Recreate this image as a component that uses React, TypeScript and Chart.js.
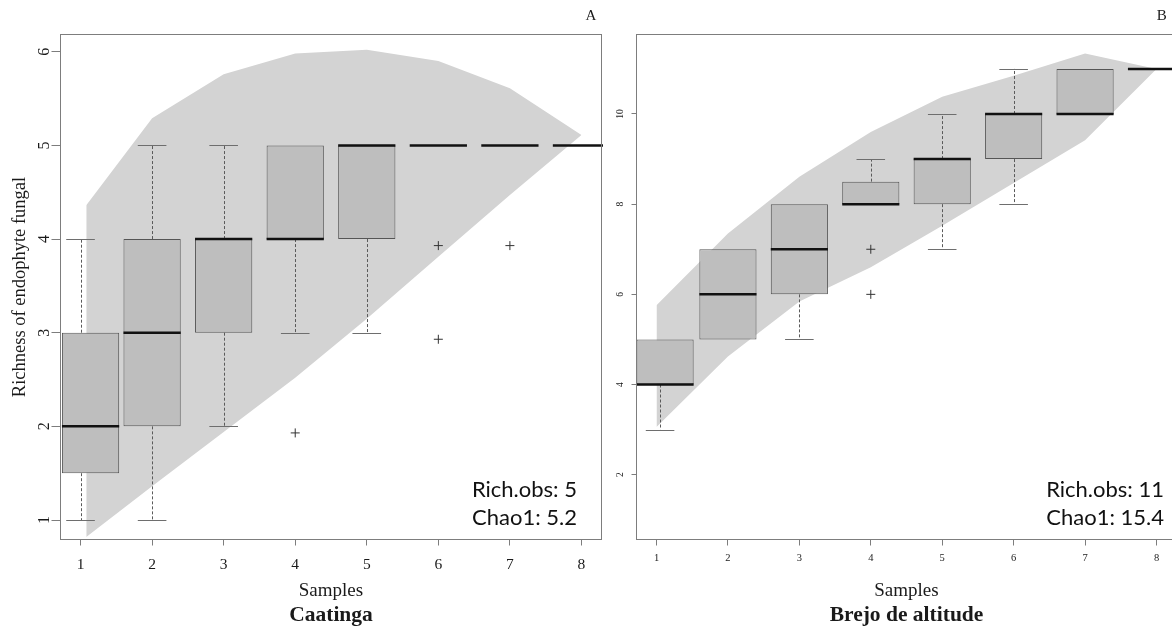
import React, { useEffect, useRef } from "react";
import { Chart, registerables } from "chart.js";

Chart.register(...registerables);

// ---------- shared ----------
const samples = [1, 2, 3, 4, 5, 6, 7, 8];

// ---------- Panel A : Caatinga ----------
const caaYTicks = [1, 2, 3, 4, 5, 6];
const caaBandX = [1.08, 2, 3, 4, 5, 6, 7, 8];
const caaBandLower = [0.82, 1.36, 1.94, 2.52, 3.15, 3.81, 4.47, 5.11];
const caaBandUpper = [4.36, 5.29, 5.76, 5.98, 6.02, 5.9, 5.61, 5.11];
const caaBoxX = [1.14, 2, 3, 4, 5, 6, 7, 8];
const caaWhiskerX = [1, 2, 3, 4, 5, 6, 7, 8];
const caaWhiskerLow = [1, 1, 2, 3, 3, 5, 5, 5];
const caaQ1 = [1.5, 2, 3, 4, 4, 5, 5, 5];
const caaMedian = [2, 3, 4, 4, 5, 5, 5, 5];
const caaQ3 = [3, 4, 4, 5, 5, 5, 5, 5];
const caaWhiskerHigh = [4, 5, 5, 5, 5, 5, 5, 5];
const caaOutlierX = [4, 6, 6, 7];
const caaOutlierY = [1.93, 3.93, 2.93, 3.93];
const caaStats = ["Rich.obs: 5", "Chao1: 5.2"];

// ---------- Panel B : Brejo de altitude ----------
const brejoYTicks = [2, 4, 6, 8, 10];
const brejoBandX = [1, 2, 3, 4, 5, 6, 7, 8];
const brejoBandLower = [3.06, 4.62, 5.84, 6.6, 7.52, 8.47, 9.42, 11.0];
const brejoBandUpper = [5.76, 7.35, 8.61, 9.6, 10.38, 10.85, 11.34, 11.0];
const brejoBoxX = [1.12, 2, 3, 4, 5, 6, 7, 8];
const brejoWhiskerX = [1.05, 2, 3, 4, 5, 6, 7, 8];
const brejoWhiskerLow = [3, 5, 5, 8, 7, 8, 10, 11];
const brejoQ1 = [4, 5, 6, 8, 8, 9, 10, 11];
const brejoMedian = [4, 6, 7, 8, 9, 10, 10, 11];
const brejoQ3 = [5, 7, 8, 8.5, 9, 10, 11, 11];
const brejoWhiskerHigh = [5, 7, 8, 9, 10, 11, 11, 11];
const brejoOutlierX = [4, 4];
const brejoOutlierY = [7, 6];
const brejoStats = ["Rich.obs: 11", "Chao1: 15.4"];

const BOX_WIDTH = 0.8; // in x units
const SERIF = "'Liberation Serif', 'Times New Roman', serif";
const SANS = "Lato, 'Noto Sans', sans-serif";
const FRAME = "#7d7d7d";
const TEXT = "#1a1a1a";
const SUB_SIZE = 21.5;
const SUB_PAD_BOTTOM = -2;
const SUB_H = SUB_SIZE * 1.2 + SUB_PAD_BOTTOM;

type PanelCfg = {
  left: number;
  width: number;
  yMin: number;
  yMax: number;
  yTicks: number[];
  bandX: number[];
  bandLower: number[];
  bandUpper: number[];
  boxX: number[];
  whiskerX: number[];
  wLow: number[];
  q1: number[];
  med: number[];
  q3: number[];
  wHigh: number[];
  outX: number[];
  outY: number[];
  stats: string[];
  statsRight: number;
  letter: string;
  letterX: number;
  subtitle: string;
  yTitle: string | null;
  yAxisWidth: number;
  padRight: number;
  yTickFont: number;
  yTickLen: number;
  yTickPad: number;
  xTickFont: number;
  xTickLen: number;
  xTickPad: number;
};

function Panel({ cfg }: { cfg: PanelCfg }) {
  const ref = useRef<HTMLCanvasElement | null>(null);
  useEffect(() => {
    if (!ref.current) return;
    let minGap = Infinity;
    for (let i = 1; i < cfg.boxX.length; i++) minGap = Math.min(minGap, cfg.boxX[i] - cfg.boxX[i - 1]);
    const catPct = BOX_WIDTH / minGap;

    const boxPlugin = {
      id: "boxExtras",
      afterDatasetsDraw(chart: any) {
        const { ctx, chartArea } = chart;
        const xs = chart.scales.x;
        const ys = chart.scales.y;
        ctx.save();
        ctx.beginPath();
        ctx.rect(chartArea.left, chartArea.top, chartArea.right - chartArea.left + 1.5, chartArea.bottom - chartArea.top);
        ctx.clip();
        cfg.boxX.forEach((bx, i) => {
          const wx = cfg.whiskerX[i];
          const cx = xs.getPixelForValue(wx);
          const bcx = xs.getPixelForValue(bx);
          const half = (xs.getPixelForValue(bx + BOX_WIDTH / 2) - xs.getPixelForValue(bx - BOX_WIDTH / 2)) / 2;
          const capHalf = half / 2;
          const yq1 = ys.getPixelForValue(cfg.q1[i]);
          const yq3 = ys.getPixelForValue(cfg.q3[i]);
          const drawWhisker = (from: number, to: number) => {
            ctx.strokeStyle = "#5a5a5a";
            ctx.lineWidth = 1;
            ctx.setLineDash([3, 2]);
            ctx.beginPath();
            ctx.moveTo(Math.round(cx) + 0.5, from);
            ctx.lineTo(Math.round(cx) + 0.5, to);
            ctx.stroke();
            ctx.setLineDash([]);
            ctx.strokeStyle = "#6e6e6e";
            ctx.beginPath();
            ctx.moveTo(cx - capHalf, Math.round(to) + 0.5);
            ctx.lineTo(cx + capHalf, Math.round(to) + 0.5);
            ctx.stroke();
          };
          if (cfg.wHigh[i] > cfg.q3[i]) drawWhisker(yq3, ys.getPixelForValue(cfg.wHigh[i]));
          if (cfg.wLow[i] < cfg.q1[i]) drawWhisker(yq1, ys.getPixelForValue(cfg.wLow[i]));
          const ym = ys.getPixelForValue(cfg.med[i]);
          ctx.strokeStyle = "#111";
          ctx.lineWidth = 2.5;
          ctx.beginPath();
          ctx.moveTo(bcx - half, ym);
          ctx.lineTo(bcx + half, ym);
          ctx.stroke();
        });
        ctx.restore();
      },
      afterDraw(chart: any) {
        const { ctx, chartArea } = chart;
        ctx.save();
        ctx.strokeStyle = FRAME;
        ctx.lineWidth = 1;
        ctx.strokeRect(chartArea.left, chartArea.top, chartArea.right - chartArea.left, chartArea.bottom - chartArea.top);
        ctx.fillStyle = "#111";
        ctx.font = `22px ${SANS}`;
        ctx.textAlign = "right";
        ctx.textBaseline = "alphabetic";
        ctx.fillText(cfg.stats[0], cfg.statsRight, chartArea.bottom - 43);
        ctx.fillText(cfg.stats[1], cfg.statsRight, chartArea.bottom - 14.5);
        ctx.font = `15px ${SERIF}`;
        ctx.textAlign = "center";
        ctx.fillStyle = TEXT;
        ctx.fillText(cfg.letter, cfg.letterX, 20);
        ctx.restore();
      },
    };

    const chart = new Chart(ref.current, {
      type: "bar",
      data: {
        datasets: [
          {
            type: "line",
            label: "lower",
            data: cfg.bandX.map((s, i) => ({ x: s, y: cfg.bandLower[i] })),
            borderWidth: 0,
            pointRadius: 0,
            fill: false,
            order: 3,
          } as any,
          {
            type: "line",
            label: "upper",
            data: cfg.bandX.map((s, i) => ({ x: s, y: cfg.bandUpper[i] })),
            borderWidth: 0,
            pointRadius: 0,
            backgroundColor: "#d3d3d3",
            fill: "-1",
            order: 2,
          } as any,
          {
            type: "bar",
            label: "boxes",
            data: cfg.boxX.map((s, i) => ({ x: s, y: cfg.q3[i] > cfg.q1[i] ? [cfg.q1[i], cfg.q3[i]] : null })),
            backgroundColor: "#bebebe",
            borderColor: "#555555",
            borderWidth: 1,
            borderSkipped: false,
            barPercentage: 1,
            categoryPercentage: catPct,
            order: 1,
          } as any,
          {
            type: "scatter",
            label: "outliers",
            data: cfg.outX.map((x, i) => ({ x, y: cfg.outY[i] })),
            pointStyle: "cross",
            pointRadius: 4.5,
            borderColor: "#333",
            borderWidth: 1,
            order: 0,
          } as any,
        ],
      },
      options: {
        animation: false,
        responsive: false,
        maintainAspectRatio: false,
        layout: { autoPadding: false, padding: { top: 34.5, right: cfg.padRight, left: 0, bottom: 0 } },
        plugins: {
          legend: { display: false },
          tooltip: { enabled: false },
          title: {
            display: true,
            text: cfg.subtitle,
            position: "bottom",
            fullSize: false,
            color: TEXT,
            font: { family: SERIF, size: SUB_SIZE, weight: "bold" },
            padding: { top: 0, bottom: SUB_PAD_BOTTOM },
          },
        },
        scales: {
          x: {
            type: "linear",
            min: 0.72,
            max: 8.28,
            offset: false,
            afterBuildTicks: (s: any) => {
              s.ticks = samples.map((v) => ({ value: v }));
            },
            afterFit: (s: any) => {
              s.height = 626 - 539.5 - SUB_H;
              s.paddingLeft = 0;
              s.paddingRight = 0;
            },
            grid: {
              offset: false,
              drawOnChartArea: false,
              drawTicks: true,
              tickLength: cfg.xTickLen,
              tickColor: FRAME,
              color: FRAME,
            },
            border: { display: false },
            ticks: {
              autoSkip: false,
              maxRotation: 0,
              color: TEXT,
              padding: cfg.xTickPad,
              font: { family: SERIF, size: cfg.xTickFont },
            },
            title: {
              display: true,
              text: "Samples",
              color: TEXT,
              font: { family: SERIF, size: 19 },
              padding: { top: 0, bottom: 0 },
            },
          },
          y: {
            type: "linear",
            min: cfg.yMin,
            max: cfg.yMax,
            afterBuildTicks: (s: any) => {
              s.ticks = cfg.yTicks.map((v) => ({ value: v }));
            },
            afterFit: (s: any) => {
              s.width = cfg.yAxisWidth;
              s.paddingTop = 0;
              s.paddingBottom = 0;
            },
            grid: { drawOnChartArea: false, drawTicks: true, tickLength: cfg.yTickLen, tickColor: FRAME, color: FRAME },
            border: { display: false },
            ticks: {
              autoSkip: false,
              minRotation: 90,
              maxRotation: 90,
              crossAlign: "center",
              color: TEXT,
              padding: cfg.yTickPad,
              font: { family: SERIF, size: cfg.yTickFont },
            },
            title: {
              display: !!cfg.yTitle,
              text: cfg.yTitle || "",
              color: TEXT,
              font: { family: SERIF, size: 18.5 },
              padding: { top: 9.4, bottom: 0 },
            },
          },
        },
      } as any,
      plugins: [boxPlugin],
    });
    return () => chart.destroy();
  }, [cfg]);

  return (
    <canvas
      ref={ref}
      width={cfg.width}
      height={626}
      style={{ position: "absolute", left: cfg.left, top: 0, width: cfg.width, height: 626 }}
    />
  );
}

const panelA: PanelCfg = {
  left: 0,
  width: 603,
  yMin: 0.792,
  yMax: 6.184,
  yTicks: caaYTicks,
  bandX: caaBandX,
  bandLower: caaBandLower,
  bandUpper: caaBandUpper,
  boxX: caaBoxX,
  whiskerX: caaWhiskerX,
  wLow: caaWhiskerLow,
  q1: caaQ1,
  med: caaMedian,
  q3: caaQ3,
  wHigh: caaWhiskerHigh,
  outX: caaOutlierX,
  outY: caaOutlierY,
  stats: caaStats,
  statsRight: 577,
  letter: "A",
  letterX: 591,
  subtitle: "Caatinga",
  yTitle: "Richness of endophyte fungal",
  yAxisWidth: 60.5,
  padRight: 1.5,
  yTickFont: 16,
  yTickLen: 9,
  yTickPad: 2.8,
  xTickFont: 15.5,
  xTickLen: 6,
  xTickPad: 10,
};

const panelB: PanelCfg = {
  left: 603,
  width: 579,
  yMin: 0.563,
  yMax: 11.763,
  yTicks: brejoYTicks,
  bandX: brejoBandX,
  bandLower: brejoBandLower,
  bandUpper: brejoBandUpper,
  boxX: brejoBoxX,
  whiskerX: brejoWhiskerX,
  wLow: brejoWhiskerLow,
  q1: brejoQ1,
  med: brejoMedian,
  q3: brejoQ3,
  wHigh: brejoWhiskerHigh,
  outX: brejoOutlierX,
  outY: brejoOutlierY,
  stats: brejoStats,
  statsRight: 1164 - 603,
  letter: "B",
  letterX: 1161.7 - 603,
  subtitle: "Brejo de altitude",
  yTitle: null,
  yAxisWidth: 33.5,
  padRight: 5.5,
  yTickFont: 9.5,
  yTickLen: 5,
  yTickPad: 6.5,
  xTickFont: 10.5,
  xTickLen: 6,
  xTickPad: 6.5,
};

export default function App() {
  return (
    <div
      style={{
        position: "fixed",
        left: 0,
        top: 0,
        width: 1172,
        height: 626,
        overflow: "hidden",
        background: "#ffffff",
      }}
    >
      <Panel cfg={panelA} />
      <Panel cfg={panelB} />
    </div>
  );
}
